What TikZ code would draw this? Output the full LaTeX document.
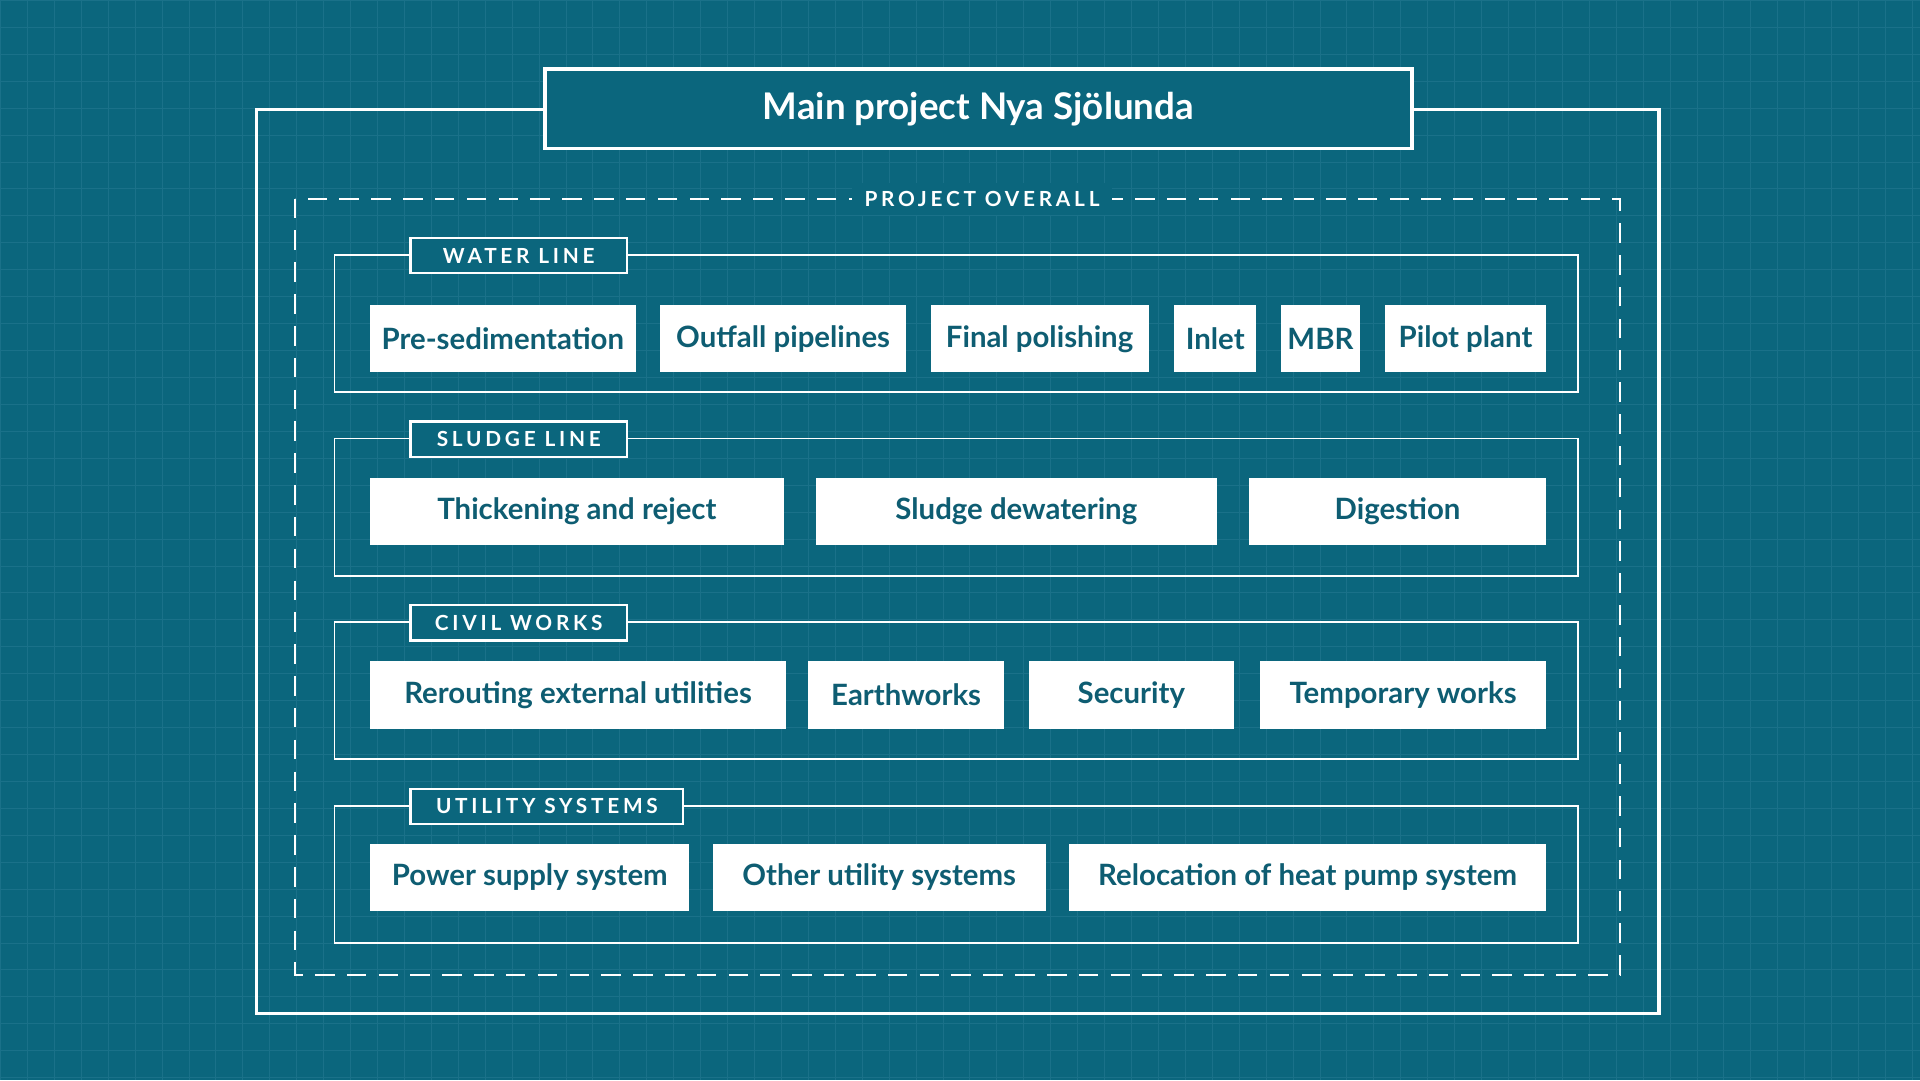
\documentclass[tikz,border=0pt]{standalone}
\usepackage{fontspec}
\setmainfont{Lato}
\newfontfamily\tagfont[LetterSpace=18]{Lato}
\usetikzlibrary{positioning}
\definecolor{bgteal}{HTML}{0B667D}
\definecolor{gridteal}{HTML}{1A7189}
\definecolor{inkteal}{HTML}{0E5D72}
\tikzset{
  item/.style = {fill=white, text=inkteal, font=\bfseries\fontsize{12}{14}\selectfont,
                 minimum height=27.5pt, inner sep=0pt},
  group/.style = {draw=white, line width=0.7pt},
  tag/.style = {draw=white, fill=bgteal, text=white, line width=0.9pt,
                font=\tagfont\bfseries\fontsize{8.5}{10}\selectfont,
                minimum height=14.5pt, inner sep=0pt}
}
% item box from x1 to x2, top y
\newcommand\itembox[5]{%
  \node [item, minimum width={(#3-#2)*0.5pt}] (#1) at ({(#2+#3)/2},{#4+27.5}) {#5};}
\begin{document}
\begin{tikzpicture}[x=0.5pt, y=-0.5pt]
    \fill [bgteal] (0,0) rectangle (1568,882);
    \draw [gridteal, line width=0.3pt, step=11pt] (0,0) grid (1568,882);
    \useasboundingbox (0,0) rectangle (1568,882);

    % frames
    \draw [white, line width=1.3pt] (209,89) rectangle (1355,828);
    \node [draw=white, line width=1.6pt, fill=bgteal, text=white,
        minimum width=354pt, minimum height=32.5pt,
        font=\bfseries\fontsize{15}{18}\selectfont] (title) at (799,88.5) {Main project Nya Sjölunda};
    \draw [white, line width=0.8pt, dash pattern=on 8pt off 5pt] (241,162) rectangle (1323,796);
    \node [fill=bgteal, text=white, inner xsep=5pt,
        font=\tagfont\bfseries\fontsize{8.5}{10}\selectfont] (overall) at (802,162) {PROJECT OVERALL};

    % groups
    \foreach \y/\w/\name/\txt in {208/177/water/WATER LINE, 358/177/sludge/SLUDGE LINE,
                                  508/177/civil/CIVIL WORKS, 658/223/utility/UTILITY SYSTEMS} {
        \draw [group] (273,\y) rectangle (1289,\y+112);
        \node [tag, minimum width=\w*0.5pt] (\name) at (335+\w/2,\y+0.5) {\txt};
    }

    % water line
    \itembox{presed}{302}{519}{249}{Pre-sedimentation}
    \itembox{outfall}{539}{740}{249}{Outfall pipelines}
    \itembox{polish}{760}{938}{249}{Final polishing}
    \itembox{inlet}{959}{1026}{249}{Inlet}
    \itembox{mbr}{1046}{1111}{249}{MBR}
    \itembox{pilot}{1131}{1263}{249}{Pilot plant}
    % sludge line
    \itembox{thick}{302}{640}{390}{Thickening and reject}
    \itembox{dewater}{666}{994}{390}{Sludge dewatering}
    \itembox{digest}{1020}{1263}{390}{Digestion}
    % civil works
    \itembox{reroute}{302}{642}{540}{Rerouting external utilities}
    \itembox{earth}{660}{820}{540}{Earthworks}
    \itembox{secur}{840}{1008}{540}{Security}
    \itembox{tempw}{1029}{1263}{540}{Temporary works}
    % utility systems
    \itembox{power}{302}{563}{689}{Power supply system}
    \itembox{otheru}{582}{854}{689}{Other utility systems}
    \itembox{heatp}{873}{1263}{689}{Relocation of heat pump system}
\end{tikzpicture}
\end{document}
